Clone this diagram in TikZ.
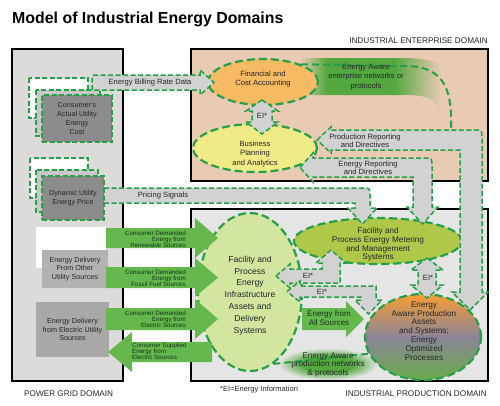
\documentclass[tikz,border=0pt]{standalone}
\usepackage{fontspec}
\setmainfont{Liberation Sans}
\usetikzlibrary{shapes.geometric}

\definecolor{gridbg}{RGB}{220,219,217}
\definecolor{entbg}{RGB}{233,202,178}
\definecolor{prodbg}{RGB}{229,229,229}
\definecolor{dashgreen}{RGB}{38,160,72}
\definecolor{arrowgray}{RGB}{210,210,210}
\definecolor{flowgreen}{RGB}{100,184,78}
\definecolor{finorange}{RGB}{246,186,98}
\definecolor{bizyellow}{RGB}{240,234,135}
\definecolor{metergreen}{RGB}{176,200,74}
\definecolor{facgreen}{RGB}{210,230,160}
\definecolor{costgray}{RGB}{140,140,140}
\definecolor{layergray}{RGB}{200,200,200}
\definecolor{othergray}{RGB}{178,178,178}
\definecolor{elecgray}{RGB}{168,168,168}
\definecolor{glowgreen}{RGB}{84,168,64}
\definecolor{awaretop}{RGB}{246,158,52}
\definecolor{awaremid}{RGB}{140,132,150}
\definecolor{awarebot}{RGB}{104,172,76}
\definecolor{textgreen}{RGB}{20,50,20}

\pgfdeclarehorizontalshading{entglow}{100bp}{color(0bp)=(entbg); color(25bp)=(entbg); color(33bp)=(glowgreen); color(53bp)=(glowgreen); color(67bp)=(entbg); color(100bp)=(entbg)}
\pgfdeclareradialshading{prodglow}{\pgfpoint{0bp}{0bp}}{color(0bp)=(glowgreen); color(13bp)=(glowgreen); color(25bp)=(prodbg); color(50bp)=(prodbg)}

\newcommand{\titlefont}{\fontsize{15.9}{18}\selectfont\bfseries}
\newcommand{\domfont}{\fontsize{8.2}{10}\selectfont}
\newcommand{\notefont}{\fontsize{7.5}{9}\selectfont}
\newcommand{\flowfont}{\fontsize{6.2}{6.1}\selectfont}
\newcommand{\boxfont}{\fontsize{7.2}{8.8}\selectfont}
\newcommand{\bandfont}{\fontsize{7.6}{8.2}\selectfont}
\newcommand{\ovalfont}{\fontsize{7.6}{9.3}\selectfont}
\newcommand{\facfont}{\fontsize{8.6}{11.8}\selectfont}
\newcommand{\blobfont}{\fontsize{8.2}{8.8}\selectfont}

\tikzstyle{domainbox} = [draw=black, line width=1.6pt]
\tikzstyle{stackbox} = [draw=dashgreen, dash pattern=on 5pt off 2.5pt, line width=1.5pt]
\tikzstyle{gridbox} = [font=\boxfont, align=center, inner sep=0pt, text=black!85]
\tikzstyle{grayband} = [fill=arrowgray, draw=dashgreen, dash pattern=on 5pt off 2.5pt, line width=1.5pt]
\tikzstyle{greenflow} = [fill=flowgreen]
\tikzstyle{blob} = [ellipse, draw=dashgreen, dash pattern=on 8pt off 4pt, line width=2.2pt, inner sep=0pt]
\tikzstyle{netdash} = [draw=dashgreen, dash pattern=on 7pt off 4pt, line width=2pt]
\tikzstyle{lbl} = [inner sep=0pt, align=center, text=black!85]
\tikzstyle{flowtext} = [inner sep=0pt, font=\flowfont, text=textgreen]

\begin{document}
\begin{tikzpicture}[x=1pt,y=-1pt]
\useasboundingbox (0,0) rectangle (500,405);
%title
\node[lbl, anchor=base west, font=\titlefont, text=black] (title) at (12,23) {Model of Industrial Energy Domains};
%begin domains
\draw[domainbox, fill=gridbg] (12,49) rectangle (123,381);
\draw[domainbox, fill=entbg] (191,49) rectangle (488,181);
\draw[domainbox, fill=prodbg] (191,209) rectangle (488,381);
\node[lbl, anchor=base east, font=\domfont] (entname) at (488,43.5) {INDUSTRIAL ENTERPRISE DOMAIN};
\node[lbl, anchor=base west, font=\domfont] (gridname) at (24,396) {POWER GRID DOMAIN};
\node[lbl, anchor=base east, font=\domfont] (prodname) at (487,396) {INDUSTRIAL PRODUCTION DOMAIN};
\node[lbl, anchor=base west, font=\notefont] (note) at (220,391) {*EI=Energy Information};
%end domains

%begin power grid
\draw[stackbox, fill=white] (29,78) rectangle (88,118);
\draw[stackbox, fill=layergray] (36,90) rectangle (100,136);
\node[stackbox, gridbox, fill=costgray, minimum width=70, minimum height=47] (cost) at (77,118.5) {Consumer's\\Actual Utility\\Energy\\Cost};
\draw[stackbox, fill=white] (30,158) rectangle (88,198);
\draw[stackbox, fill=layergray] (36,170) rectangle (98,212);
\node[stackbox, gridbox, fill=costgray, minimum width=62, minimum height=44] (price) at (73,198) {Dynamic Utility\\Energy Price};
\fill[white] (36,227) rectangle (106,268);
\node[gridbox, fill=othergray, minimum width=66, minimum height=38] (other) at (75,269) {Energy Delivery\\From Other\\Utility Sources};
\node[gridbox, fill=elecgray, minimum width=73, minimum height=55] (elec) at (72.5,329.5) {Energy Delivery\\from Electric Utility\\Sources};
%end power grid

%begin glows
\shade[shading=entglow] (300,58) -- (405,58) .. controls (465,58) and (468,95) .. (463,130) -- (440,130) .. controls (442,100) and (432,95) .. (405,95) -- (300,95) -- cycle;
\shade[shading=prodglow] (328,364) ellipse [x radius=50, y radius=16];
%end glows

%begin ovals
\node[blob, fill=finorange, minimum width=110, minimum height=46] (fin) at (263,82) {};
\node[blob, fill=bizyellow, minimum width=124, minimum height=48] (biz) at (255,148) {};
\node[blob, fill=facgreen, minimum width=104, minimum height=158] (fac) at (250,292) {};
\node[blob, fill=metergreen, minimum width=168, minimum height=46] (met) at (378,241) {};
\node[blob, top color=awaretop, bottom color=awarebot, middle color=awaremid, minimum width=116, minimum height=86] (aware) at (423,337) {};
%end ovals

%networks
\draw[netdash] (fin.25) -- (405,66) .. controls (448,66) and (452,95) .. (451,130);
\draw[netdash] (fac.-72) -- (aware.197);

%begin gray bands
\draw[grayband] (92,90) -- (92,80) .. controls (92,75) .. (97,75) -- (200,75) -- (200,70) -- (214,82.5) -- (200,95) -- (200,90) -- cycle;
\draw[grayband] (104,188) -- (362,188) .. controls (370,188) .. (370,196) -- (370,208) -- (377,208) -- (362.5,224) -- (348,208) -- (355,208) -- (355,203) -- (104,203) -- cycle;
\draw[grayband] (317,140) -- (331,127) -- (331,130) -- (474,130) .. controls (482,130) .. (482,138) -- (482,292) -- (488,292) -- (470,310) -- (452,292) -- (460,292) -- (460,150) -- (331,150) -- (331,153) -- cycle;
\draw[grayband] (300,167.5) -- (313,153) -- (313,158) -- (424,158) .. controls (432,158) .. (432,166) -- (432,207) -- (438,207) -- (422.5,224) -- (407,207) -- (413,207) -- (413,177) -- (313,177) -- (313,182) -- cycle;
\draw[grayband] (262,100) -- (278,111) -- (272,111) -- (272,122) -- (278,122) -- (262,134) -- (246,122) -- (252,122) -- (252,111) -- (246,111) -- cycle;
\draw[grayband] (276,276) -- (290,264) -- (290,269) -- (322,269) -- (322,263) -- (316,263) -- (331,250) -- (346,263) -- (340,263) -- (340,283) -- (290,283) -- (290,288) -- cycle;
\draw[grayband] (287,291.5) -- (300,281) -- (300,286) -- (376,286) -- (376,300) -- (382,300) -- (368.5,314) -- (355,300) -- (361,300) -- (361,297) -- (300,297) -- (300,302) -- cycle;
\draw[grayband] (427,258) -- (443,270) -- (436,270) -- (436,285) -- (443,285) -- (427,298) -- (411,285) -- (418,285) -- (418,270) -- (411,270) -- cycle;
%end gray bands

%begin green flows
\fill[greenflow] (106,228) -- (195,228) -- (195,218) -- (218,238) -- (195,258) -- (195,248) -- (106,248) -- cycle;
\fill[greenflow] (106,267) -- (195,267) -- (195,258) -- (218,277.5) -- (195,297) -- (195,288) -- (106,288) -- cycle;
\fill[greenflow] (106,308) -- (195,308) -- (195,299) -- (218,319) -- (195,339) -- (195,330) -- (106,330) -- cycle;
\fill[greenflow] (212,342) -- (132,342) -- (132,332) -- (108,352) -- (132,372) -- (132,362) -- (212,362) -- cycle;
\fill[greenflow] (302,308) -- (346,308) -- (346,301) -- (364,319) -- (346,337) -- (346,330) -- (302,330) -- cycle;
%end green flows

%begin texts
\node[lbl, font=\ovalfont] (finT) at (263,79) {Financial and\\Cost Accounting};
\node[lbl, font=\ovalfont] (bizT) at (255,154) {Business\\Planning\\and Analytics};
\node[lbl, font=\facfont] (facT) at (250,295.5) {Facility and\\Process\\Energy\\Infrastructure\\Assets and\\Delivery\\Systems};
\node[lbl, font=\blobfont] (metT) at (378,244.5) {Facility and\\Process Energy Metering\\and Management\\Systems};
\node[lbl, font=\blobfont] (awareT) at (424,331) {Energy\\Aware Production\\Assets\\and Systems;\\Energy\\Optimized\\Processes};
\node[lbl, font=\ovalfont] (entnetT) at (366,77) {Energy Aware\\enterprise networks or\\protocols};
\node[lbl, font=\fontsize{8.2}{8.6}\selectfont] (prodnetT) at (328,365) {Energy Aware\\production networks\\\& protocols};
\node[lbl, font=\bandfont] (billT) at (150,82.5) {Energy Billing Rate Data};
\node[lbl, font=\bandfont] (priceT) at (163,196) {Pricing Signals};
\node[lbl, font=\bandfont] (prodrepT) at (365,141) {Production Reporting\\and Directives};
\node[lbl, font=\bandfont] (enrepT) at (368,168) {Energy Reporting\\and Directives};
\node[lbl, font=\bandfont] (ei1) at (262,116) {EI*};
\node[lbl, font=\bandfont] (ei2) at (308,276) {EI*};
\node[lbl, font=\bandfont] (ei3) at (322,291.5) {EI*};
\node[lbl, font=\bandfont] (ei4) at (428,278) {EI*};
\node[flowtext, align=right, anchor=east] (renewT) at (186,239) {Consumer Demanded\\Energy from\\Renewable Sources};
\node[flowtext, align=right, anchor=east] (fossilT) at (186,278) {Consumer Demanded\\Energy from\\Fossil Fuel Sources};
\node[flowtext, align=right, anchor=east] (electT) at (186,319) {Consumer Demanded\\Energy from\\Electric Sources};
\node[flowtext, align=left, anchor=west] (supplyT) at (132,351) {Consumer Supplied\\Energy from\\Electric Sources};
\node[lbl, font=\fontsize{8}{9}\selectfont, text=textgreen] (allT) at (329,318.5) {Energy from\\All Sources};
%end texts
\end{tikzpicture}
\end{document}
